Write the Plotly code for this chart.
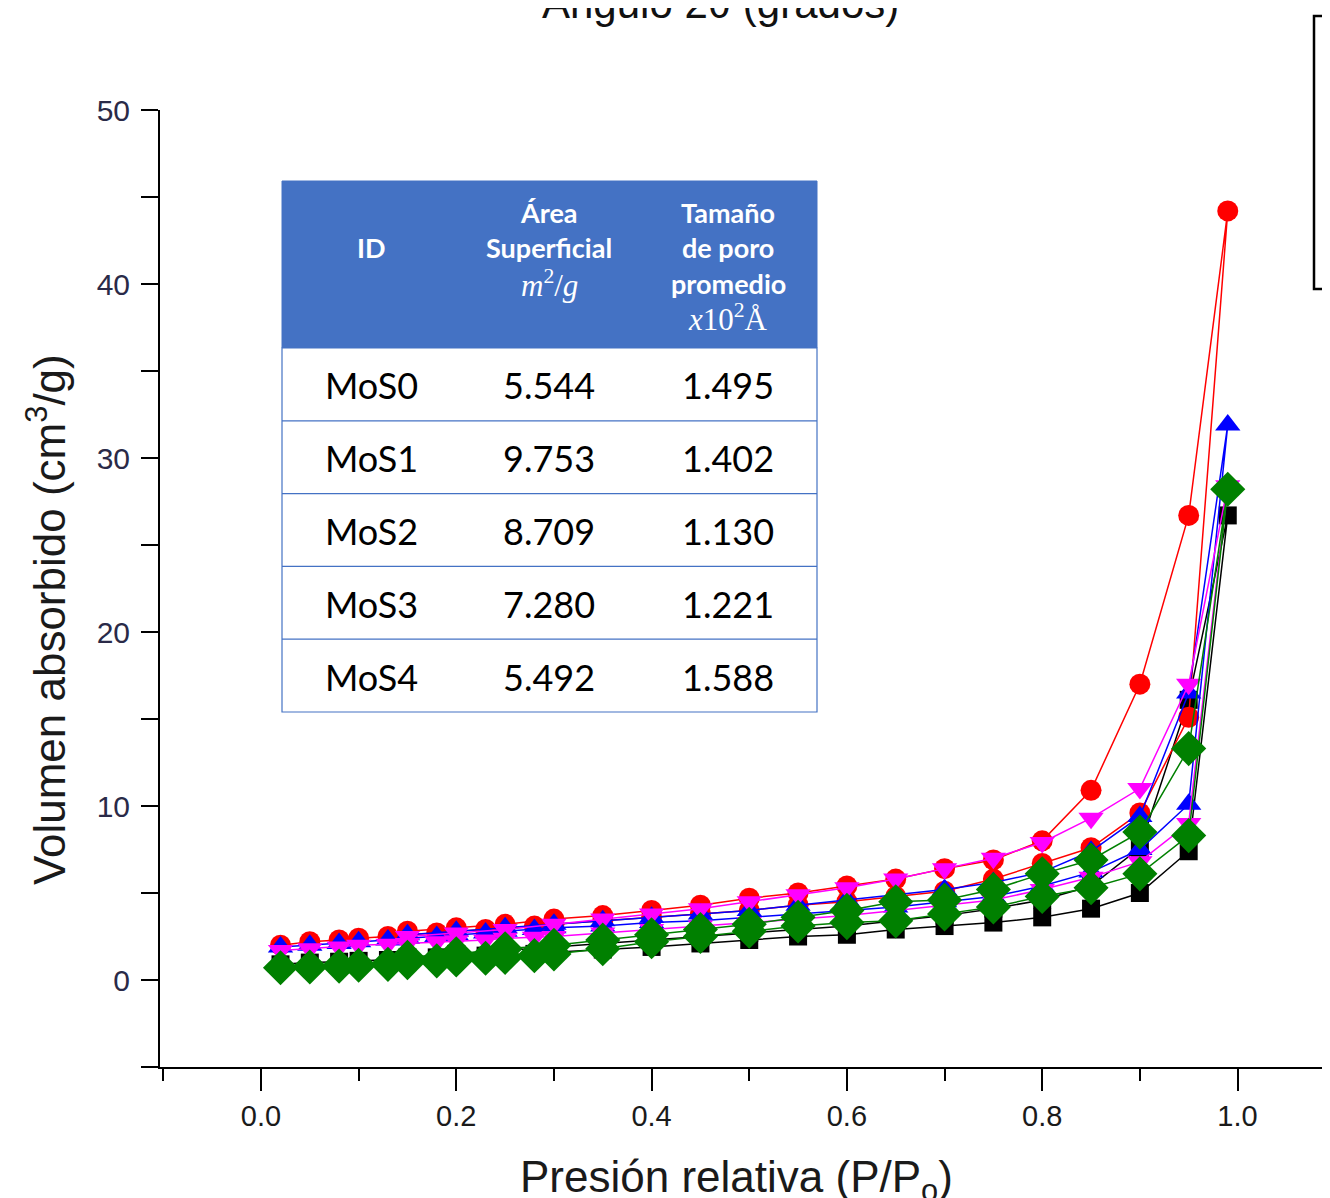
import plotly.graph_objects as go

# ---------------- data ----------------
ads_x = [0.02, 0.05, 0.08, 0.10, 0.13, 0.15, 0.18, 0.20, 0.23, 0.25, 0.28, 0.30, 0.35,
         0.40, 0.45, 0.50, 0.55, 0.60, 0.65, 0.70, 0.75, 0.80, 0.85, 0.90, 0.95, 0.99]
des_x = [0.95, 0.90, 0.85, 0.80, 0.75, 0.70, 0.65, 0.60, 0.55, 0.50, 0.45, 0.40, 0.35,
         0.30, 0.25, 0.20, 0.15]

mos0_ads = [0.9, 1.0, 1.05, 1.1, 1.15, 1.2, 1.3, 1.35, 1.4, 1.45, 1.5, 1.6, 1.75,
            1.9, 2.1, 2.3, 2.5, 2.6, 2.9, 3.1, 3.3, 3.6, 4.1, 5.0, 7.4, 26.7]
mos0_des = [16.1, 7.6, 5.4, 4.6, 4.1, 3.7, 3.4, 3.1, 2.9, 2.7, 2.5, 2.3, 2.1, 1.9, 1.7, 1.5, 1.3]

mos1_ads = [2.0, 2.2, 2.3, 2.4, 2.5, 2.6, 2.7, 2.8, 2.9, 3.0, 3.1, 3.2, 3.4,
            3.6, 3.8, 4.0, 4.3, 4.5, 4.8, 5.1, 5.8, 6.7, 7.6, 9.6, 15.1, 44.2]
mos1_des = [26.7, 17.0, 10.9, 8.0, 6.9, 6.4, 5.8, 5.4, 5.0, 4.7, 4.3, 4.0, 3.7, 3.5, 3.2, 3.0, 2.8]

mos2_ads = [1.9, 2.0, 2.1, 2.2, 2.3, 2.4, 2.5, 2.6, 2.7, 2.8, 2.9, 3.0, 3.1,
            3.3, 3.4, 3.6, 3.8, 4.0, 4.2, 4.5, 4.8, 5.4, 6.2, 7.5, 10.1, 31.9]
mos2_des = [16.5, 9.4, 7.4, 6.2, 5.6, 5.2, 4.9, 4.6, 4.3, 4.0, 3.8, 3.6, 3.4, 3.2, 3.0, 2.8, 2.6]

mos3_ads = [1.7, 1.8, 1.9, 2.0, 2.05, 2.1, 2.2, 2.25, 2.3, 2.4, 2.45, 2.5, 2.7,
            2.9, 3.1, 3.3, 3.5, 3.7, 4.0, 4.3, 4.6, 5.2, 5.9, 6.8, 9.0, 28.4]
mos3_des = [17.0, 11.0, 9.3, 7.9, 7.0, 6.4, 5.8, 5.3, 4.9, 4.5, 4.1, 3.8, 3.5, 3.2, 2.9, 2.7, 2.5]

mos4_ads = [0.7, 0.75, 0.8, 0.85, 0.9, 1.0, 1.1, 1.15, 1.25, 1.3, 1.4, 1.5, 1.8,
            2.2, 2.5, 2.8, 3.1, 3.3, 3.4, 3.8, 4.2, 4.8, 5.3, 6.1, 8.3, 28.2]
mos4_des = [13.3, 8.5, 6.9, 6.1, 5.2, 4.6, 4.5, 4.0, 3.6, 3.2, 2.9, 2.6, 2.3, 2.0, 1.8, 1.5, 1.3]

series_names = ["MoS0", "MoS1", "MoS2", "MoS3", "MoS4"]
series_ads = [mos0_ads, mos1_ads, mos2_ads, mos3_ads, mos4_ads]
series_des = [mos0_des, mos1_des, mos2_des, mos3_des, mos4_des]

# table
table_ids = ["MoS0", "MoS1", "MoS2", "MoS3", "MoS4"]
table_area = ["5.544", "9.753", "8.709", "7.280", "5.492"]
table_pore = ["1.495", "1.402", "1.130", "1.221", "1.588"]

x_ticks = [0.0, 0.2, 0.4, 0.6, 0.8, 1.0]
y_ticks = [0, 10, 20, 30, 40, 50]

# ---------------- style ----------------
colors = ["#000000", "#FF0000", "#0000FF", "#FF00FF", "#008000"]
symbols = ["square", "circle", "triangle-up", "triangle-down", "diamond"]
sizes = [18, 21, 22, 22, 27]

OFF = 8  # page body margin
W, H = 1330 - OFF, 1198 - OFF
L, R, T, B = 160 - OFF, 0, 110 - OFF, 1198 - 1067
PW, PH = W - L - R, H - T - B


def px(xp):
    """page-pixel x of the reference -> paper coordinate"""
    return (xp - OFF - L) / PW


def py(yp):
    """page-pixel y of the reference -> paper coordinate"""
    return (H - B - (yp - OFF)) / PH


fig = go.Figure()
for name, ya, yd, c, s, sz in zip(series_names, series_ads, series_des, colors, symbols, sizes):
    fig.add_trace(go.Scatter(
        x=ads_x + des_x, y=ya + yd, name=name, mode="lines+markers",
        line=dict(color=c, width=1.5),
        marker=dict(color=c, symbol=s, size=sz, line=dict(width=0)),
        showlegend=False,
    ))

shapes = []
annotations = []

# ---- inset table ----
tx0, tx1 = 282, 817
hy0, hy1 = 181, 348
row_h = 72.8
blue = "#4472C4"
shapes.append(dict(type="rect", xref="paper", yref="paper", x0=px(tx0), x1=px(tx1),
                   y0=py(hy1), y1=py(hy0), fillcolor=blue, line=dict(color=blue, width=1),
                   layer="above"))
body_bottom = hy1 + row_h * len(table_ids)
shapes.append(dict(type="rect", xref="paper", yref="paper", x0=px(tx0), x1=px(tx1),
                   y0=py(body_bottom), y1=py(hy1), fillcolor="white",
                   line=dict(color=blue, width=1.2), layer="above"))
for i in range(1, len(table_ids)):
    yy = hy1 + row_h * i
    shapes.append(dict(type="line", xref="paper", yref="paper", x0=px(tx0), x1=px(tx1),
                       y0=py(yy), y1=py(yy), line=dict(color=blue, width=1.2), layer="above"))

col_x = [371, 549, 728]
hdr_font = dict(family="Lato, Open Sans, sans-serif", size=27, color="white")
math_font = dict(family="Liberation Serif, DejaVu Serif, serif", size=31, color="white")


def txt(text, xc, yc, font, angle=0):
    annotations.append(dict(text=text, xref="paper", yref="paper", x=px(xc), y=py(yc),
                            xanchor="center", yanchor="middle", showarrow=False, font=font,
                            textangle=angle))


txt("<b>ID</b>", col_x[0], 247, hdr_font)
txt("<b>Área</b>", col_x[1], 212, hdr_font)
txt("<b>Superficial</b>", col_x[1], 247, hdr_font)
txt("<i>m</i><sup>2</sup>/<i>g</i>", col_x[1], 283, math_font)
txt("<b>Tamaño</b>", col_x[2], 212, hdr_font)
txt("<b>de poro</b>", col_x[2], 247, hdr_font)
txt("<b>promedio</b>", col_x[2], 283, hdr_font)
txt("<i>x</i>10<sup>2</sup>Å", col_x[2], 317, math_font)

body_font = dict(family="Lato, Open Sans, sans-serif", size=36, color="black")
for i, (a, b, c) in enumerate(zip(table_ids, table_area, table_pore)):
    yc = hy1 + row_h * (i + 0.5) + 1
    for t, xc in zip((a, b, c), col_x):
        txt(t, xc, yc, body_font)

# ---- axis titles (placed like the reference) ----
title_font = dict(family="Liberation Sans, Arial, sans-serif", size=44, color="#1a1a1a")
txt("Volumen absorbido (cm<sup>3</sup>/g)", 46, 620, title_font, angle=-90)
txt("Presión relativa (P/P<sub>o</sub>)", 736, 1180, title_font)

# ---- cut-off legend box at right edge ----
shapes.append(dict(type="rect", xref="paper", yref="paper", x0=px(1314), x1=px(1345),
                   y0=py(289), y1=py(16), line=dict(color="black", width=2.5),
                   fillcolor="rgba(0,0,0,0)", layer="above"))
leg_y = [47, 101, 156, 210, 264]
for c, yy in zip(colors, leg_y):
    shapes.append(dict(type="line", xref="paper", yref="paper", x0=px(1324), x1=px(1332),
                       y0=py(yy), y1=py(yy), line=dict(color=c, width=3), layer="above"))

# ---- cut-off title from the top ----
annotations.append(dict(text="Ángulo 2θ (grados)", xref="paper", yref="paper",
                        x=px(720), y=py(29), xanchor="center", yanchor="bottom",
                        showarrow=False,
                        font=dict(family="Liberation Sans, Arial, sans-serif", size=42,
                                  color="#111111")))

fig.update_layout(
    width=W, height=H,
    margin=dict(l=L, r=R, t=T, b=B, autoexpand=False),
    paper_bgcolor="white", plot_bgcolor="white",
    shapes=shapes, annotations=annotations,
    xaxis=dict(
        range=[-0.1034, 1.0947], showgrid=False, zeroline=False,
        showline=True, linecolor="black", linewidth=2,
        ticks="outside", ticklen=22, tickwidth=1.5, tickcolor="black",
        tickvals=x_ticks, ticktext=[f"{v:.1f}" for v in x_ticks],
        minor=dict(ticks="outside", ticklen=12, tickwidth=1.5, tickcolor="black", dtick=0.1,
                   tick0=0, showgrid=False),
        tickfont=dict(family="Liberation Sans Narrow, Arial Narrow, Liberation Sans, sans-serif",
                      size=29, color="#1a1a1a"),
        ticklabelstandoff=0,
    ),
    yaxis=dict(
        range=[-5, 50], showgrid=False, zeroline=False,
        showline=True, linecolor="black", linewidth=2,
        ticks="outside", ticklen=17, tickwidth=1.5, tickcolor="black",
        tickvals=y_ticks,
        minor=dict(ticks="outside", ticklen=17, tickwidth=1.5, tickcolor="black", dtick=5,
                   tick0=0, showgrid=False),
        tickfont=dict(family="Liberation Sans, Arial, sans-serif", size=30, color="#2a2a48"),
        ticklabelstandoff=5,
    ),
)

fig.write_html("out.html")
